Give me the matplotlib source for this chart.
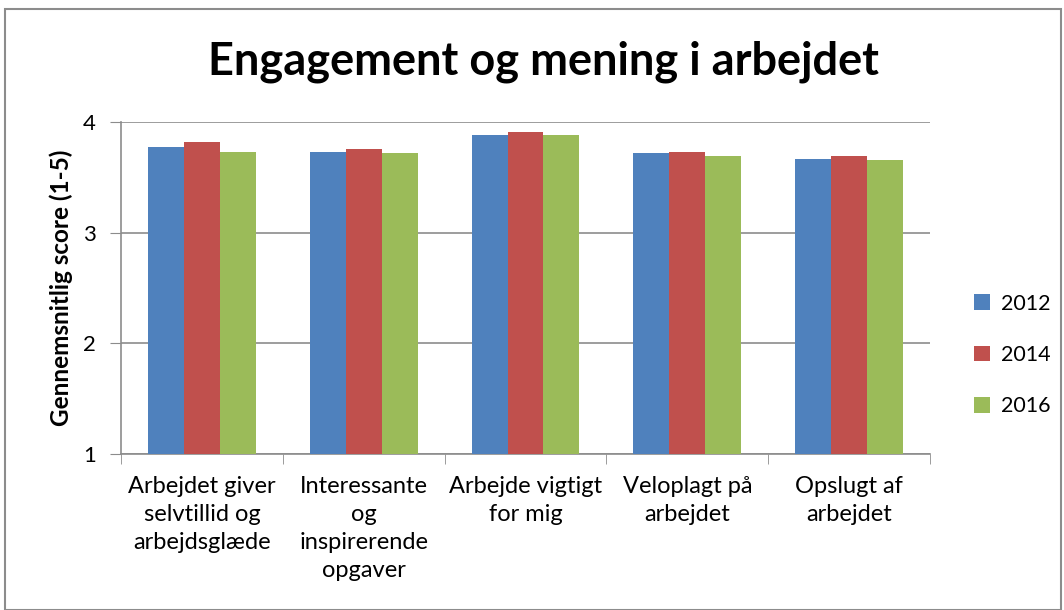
import numpy as np
import matplotlib.pyplot as plt
from matplotlib.patches import Rectangle

plt.rcParams['font.family'] = ['Lato', 'DejaVu Sans']

categories = ['Arbejdet giver\nselvtillid og\narbejdsglæde',
              'Interessante\nog\ninspirerende\nopgaver',
              'Arbejde vigtigt\nfor mig',
              'Veloplagt på\narbejdet',
              'Opslugt af\narbejdet']
years = ['2012', '2014', '2016']
v2012 = [3.77, 3.73, 3.88, 3.72, 3.67]
v2014 = [3.82, 3.76, 3.91, 3.73, 3.69]
v2016 = [3.73, 3.72, 3.88, 3.69, 3.66]
colors = ['#4F81BD', '#C0504D', '#9BBB59']

fig = plt.figure(figsize=(10.64, 6.10), dpi=100)
ax = fig.add_axes([121/1064, 1-454/610, (930-121)/1064, (454-122)/610])

x = np.arange(len(categories))
w = 1/4.5
for i, (vals, c, yr) in enumerate(zip([v2012, v2014, v2016], colors, years)):
    ax.bar(x + (i-1)*w, np.array(vals)-1, bottom=1, width=w, color=c, label=yr, zorder=3)

ax.set_ylim(1, 4)
ax.set_xlim(-0.5, len(categories)-0.5)
ax.set_yticks([1, 2, 3, 4])
ax.yaxis.grid(True, color='#8c8c8c', linewidth=1.2, zorder=0)
ax.set_xticks(x)
ax.set_xticklabels(categories, fontsize=17, linespacing=1.4)
ax.set_xticks(np.arange(-0.5, len(categories)), minor=True)
ax.tick_params(axis='x', which='major', length=0, pad=16)
ax.tick_params(axis='x', which='minor', length=7, color='#8c8c8c')
ax.tick_params(axis='y', length=8, color='#8c8c8c', labelsize=16, pad=10)
for s in ['top', 'right']:
    ax.spines[s].set_visible(False)
for s in ['left', 'bottom']:
    ax.spines[s].set_color('#8c8c8c')
    ax.spines[s].set_linewidth(1.2)

fig.text(61/1064, 1-288/610, 'Gennemsnitlig score (1-5)', fontsize=17.5, fontweight='bold',
         rotation=90, ha='center', va='center')
fig.text(543/1064, 1-62/610, 'Engagement og mening i arbejdet', fontsize=32.5,
         fontweight='bold', ha='center', va='center')

ax.legend(loc='center left', bbox_to_anchor=(1.03, 0.298), frameon=False, fontsize=15.5,
          handlelength=0.75, handleheight=0.75, labelspacing=1.45, handletextpad=0.5)

fig.patches.append(Rectangle((5/1064, 0), 1056/1064, 1-9/610, transform=fig.transFigure,
                             fill=False, edgecolor='#8c8c8c', linewidth=1.5))

fig.savefig('out.png', dpi=100)
